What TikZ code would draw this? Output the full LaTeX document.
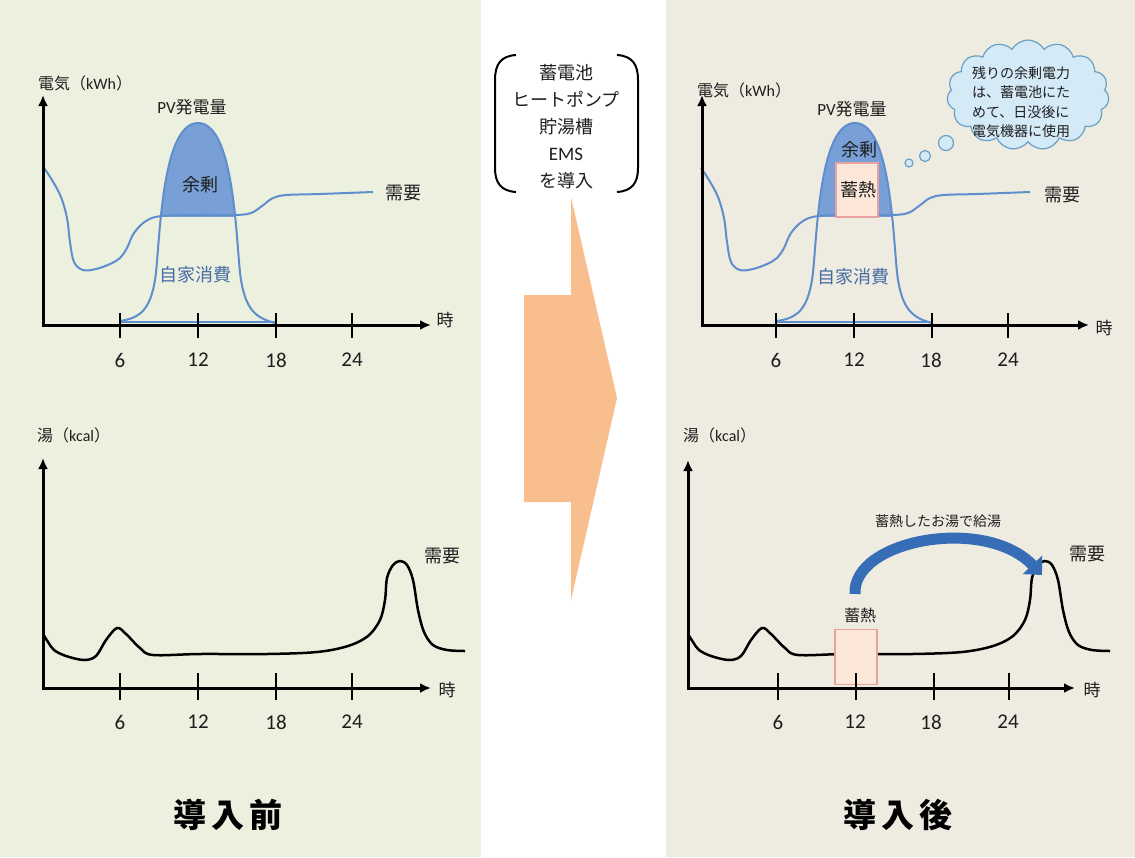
\documentclass[tikz,border=0pt]{standalone}
\usepackage{fontspec}
\setmainfont{Noto Sans CJK JP}
\newfontfamily\cjk{Noto Sans CJK JP}
\newfontfamily\lat{Carlito}
\usetikzlibrary{arrows.meta,shapes.symbols}
\definecolor{bgL}{RGB}{236,240,223}
\definecolor{bgR}{RGB}{238,235,224}
\definecolor{pvline}{RGB}{95,142,205}
\definecolor{pvfill}{RGB}{120,160,214}
\definecolor{selfc}{RGB}{70,108,165}
\definecolor{txt}{RGB}{30,30,30}
\definecolor{orng}{RGB}{249,190,142}
\definecolor{pinkf}{RGB}{253,231,216}
\definecolor{pinkd}{RGB}{232,160,160}
\definecolor{cloudf}{RGB}{212,234,247}
\definecolor{cloudd}{RGB}{105,160,198}
\definecolor{arcb}{RGB}{55,108,182}
\newcommand\elecchart{%
  \begin{scope}
    \clip (140,100) rectangle (260,216);
    \fill[pvfill] (120,321) .. controls (140,318) and (150,310) .. (155,280) .. controls (160,250) and (160,123) .. (198,123) .. controls (236,123) and (236,250) .. (241,280) .. controls (246,310) and (256,318) .. (275,323) -- cycle;
  \end{scope}
  \draw[curve] plot[smooth, tension=0.6] coordinates {(44,168)(52,180)(61,197)(67,218)(70,242)(74,262)(83,270)(96,269)(110,264)(120,258)(127,248)(134,233)(146,221)(162,216)(200,215)(235,215)(251,213)(262,206)(273,198)(287,195)(320,194)(373,192)};
  \draw[curve] (120,321) .. controls (140,318) and (150,310) .. (155,280) .. controls (160,250) and (160,123) .. (198,123) .. controls (236,123) and (236,250) .. (241,280) .. controls (246,310) and (256,318) .. (275,323);
}
\newcommand\hotcurve{%
  \draw[hot] plot[smooth, tension=0.55] coordinates {(43,634)(48,642)(54,650)(66,656)(84,660)(96,656)(106,640)(117,628)(126,634)(140,648)(153,655)(200,654)(267,654)(317,652)(348,646)(368,636)(380,620)(385,600)(387,578)(393,565)(400,561)(407,565)(413,580)(418,610)(424,632)(433,645)(447,650)(465,651)};
}
\begin{document}
\begin{tikzpicture}[x=1pt,y=-1pt,
  axis/.style={line width=3pt,{Latex[length=11pt,width=10pt]}-{Latex[length=11pt,width=10pt]}},
  tickmark/.style={line width=2.5pt},
  num/.style={font=\lat\fontsize{21}{21}\selectfont,text=txt},
  lbl/.style={font=\cjk\fontsize{16}{16}\selectfont,text=txt},
  big/.style={font=\cjk\fontsize{18}{18}\selectfont,text=txt},
  curve/.style={line width=2pt,draw=pvline},
  hot/.style={line width=2.5pt,draw=black},
  pinkbox/.style={fill=pinkf,draw=pinkd,line width=1.5pt},
  bubble/.style={circle,draw=cloudd,fill=cloudf,line width=1.2pt,inner sep=0pt}]
\useasboundingbox (0,0) rectangle (1135,857);
\fill[white] (0,0) rectangle (1135,857);
\fill[bgL] (0,0) rectangle (481,857);
\fill[bgR] (666,0) rectangle (1135,857);

% ---------- top-left chart ----------
\elecchart
\draw[curve] (120,321.5) -- (275,321.5);
\coordinate (yA) at (43,95);
\coordinate (oA) at (43,325);
\coordinate (xA) at (431,325);
\draw[axis] (yA) -- (oA) -- (xA);
\foreach \x in {120,198,276,352} \draw[tickmark] (\x,313) -- (\x,338);
\node[num] (a6) at (120,360) {6};
\node[num] (a12) at (198,360) {12};
\node[num] (a18) at (276,360) {18};
\node[num] (a24) at (352,360) {24};
\node[lbl,anchor=west,inner sep=0pt] (aty) at (38,83) {電気（{\lat kWh}）};
\node[lbl,font=\cjk\fontsize{17}{17}\selectfont] (atx) at (445,320) {時};
\node[big,font=\cjk\fontsize{17}{17}\selectfont] (apv) at (192,107) {{\lat PV}発電量};
\node[big] (asur) at (200,185) {余剰};
\node[big] (adem) at (403,193) {需要};
\node[big,text=selfc] (aself) at (195,275) {自家消費};

% ---------- bottom-left chart ----------
\hotcurve
\coordinate (yB) at (43,458);
\coordinate (oB) at (43,688);
\coordinate (xB) at (431,688);
\draw[axis] (yB) -- (oB) -- (xB);
\foreach \x in {120,198,276,352} \draw[tickmark] (\x,673) -- (\x,700);
\node[num] (b6) at (120,722) {6};
\node[num] (b12) at (198,722) {12};
\node[num] (b18) at (276,722) {18};
\node[num] (b24) at (352,722) {24};
\node[lbl,anchor=west,inner sep=0pt] (bty) at (37,435) {湯（{\lat kcal}）};
\node[lbl,font=\cjk\fontsize{17}{17}\selectfont] (btx) at (447,690) {時};
\node[big] (bdem) at (442,556) {需要};

% ---------- middle ----------
\draw[line width=2pt] (516,55) .. controls (501,56) and (495,64) .. (495,80) -- (495,168) .. controls (495,183) and (501,191) .. (516,192);
\draw[line width=2pt] (617,55) .. controls (632,56) and (638,64) .. (638,80) -- (638,168) .. controls (638,183) and (632,191) .. (617,192);
\node[align=center,font=\cjk\fontsize{18}{27}\selectfont,text=txt] (intro) at (566,127) {蓄電池\\ヒートポンプ\\貯湯槽\\{\lat\fontsize{19}{27}\selectfont EMS}\\を導入};
\fill[orng] (524,295) -- (571,295) -- (571,197) -- (617,398) -- (571,600) -- (571,502) -- (524,502) -- cycle;

% ---------- top-right chart ----------
\begin{scope}[xshift=657pt]
\elecchart
\draw[curve] (120,321.5) -- (275,321.5);
\end{scope}
\node[pinkbox,minimum width=42pt,minimum height=54pt,inner sep=0pt] (cstore) at (857,190) {};
\node[big] (cstoret) at (858,190) {蓄熱};
\coordinate (yC) at (702,95);
\coordinate (oC) at (702,325);
\coordinate (xC) at (1089,325);
\draw[axis] (yC) -- (oC) -- (xC);
\foreach \x in {776,854,932,1008} \draw[tickmark] (\x,313) -- (\x,338);
\node[num] (c6) at (776,360) {6};
\node[num] (c12) at (854,360) {12};
\node[num] (c18) at (931,360) {18};
\node[num] (c24) at (1008,360) {24};
\node[lbl,anchor=west,inner sep=0pt] (cty) at (697,90) {電気（{\lat kWh}）};
\node[lbl,font=\cjk\fontsize{17}{17}\selectfont] (ctx) at (1104,328) {時};
\node[big,font=\cjk\fontsize{17}{17}\selectfont] (cpv) at (852,109) {{\lat PV}発電量};
\node[big] (csur) at (859,150) {余剰};
\node[big] (cdem) at (1062,195) {需要};
\node[big,text=selfc] (cself) at (853,277) {自家消費};
\node[cloud,cloud puffs=15,cloud puff arc=120,aspect=1.45,draw=cloudd,fill=cloudf,line width=1.2pt,minimum width=162pt,minimum height=110pt] (cloud) at (1028,95) {};
\node[align=left,font=\cjk\fontsize{14}{19.5}\selectfont,text=txt] (cloudtxt) at (1021,102) {残りの余剰電力\\は、蓄電池にた\\めて、日没後に\\電気機器に使用};
\node[bubble,minimum size=15pt] (bub1) at (946,143) {};
\node[bubble,minimum size=11pt] (bub2) at (925,156) {};
\node[bubble,minimum size=8pt] (bub3) at (909,163) {};

% ---------- bottom-right chart ----------
\begin{scope}[xshift=645pt]
\hotcurve
\end{scope}
\node[pinkbox,minimum width=42pt,minimum height=55pt,inner sep=0pt] (dstore) at (856,657) {};
\node[big,font=\cjk\fontsize{16}{16}\selectfont] (dstoret) at (860,615) {蓄熱};
\coordinate (yD) at (688,460);
\coordinate (oD) at (688,688);
\coordinate (xD) at (1075,688);
\draw[axis] (yD) -- (oD) -- (xD);
\foreach \x in {778,856,934,1009} \draw[tickmark] (\x,673) -- (\x,700);
\node[num] (d6) at (778,722) {6};
\node[num] (d12) at (855,722) {12};
\node[num] (d18) at (931,722) {18};
\node[num] (d24) at (1008,722) {24};
\node[lbl,anchor=west,inner sep=0pt] (dty) at (683,435) {湯（{\lat kcal}）};
\node[lbl,font=\cjk\fontsize{17}{17}\selectfont] (dtx) at (1092,690) {時};
\node[big] (ddem) at (1087,554) {需要};
\node[font=\cjk\fontsize{14}{14}\selectfont,text=txt] (arclbl) at (938,521) {蓄熱したお湯で給湯};
\coordinate (arcs) at (855,594);
\coordinate (arce) at (1042,575);
\draw[arcb,line width=11pt,-{Triangle[length=14pt,width=26pt]}] (arcs) .. controls (852,540) and (985,515) .. (arce);

% ---------- titles ----------
\node[font=\cjk\bfseries\fontsize{33}{33}\selectfont,text=black] (before) at (228,815) {導\,入\,前};
\node[font=\cjk\bfseries\fontsize{33}{33}\selectfont,text=black] (after) at (898,815) {導\,入\,後};
\end{tikzpicture}
\end{document}
